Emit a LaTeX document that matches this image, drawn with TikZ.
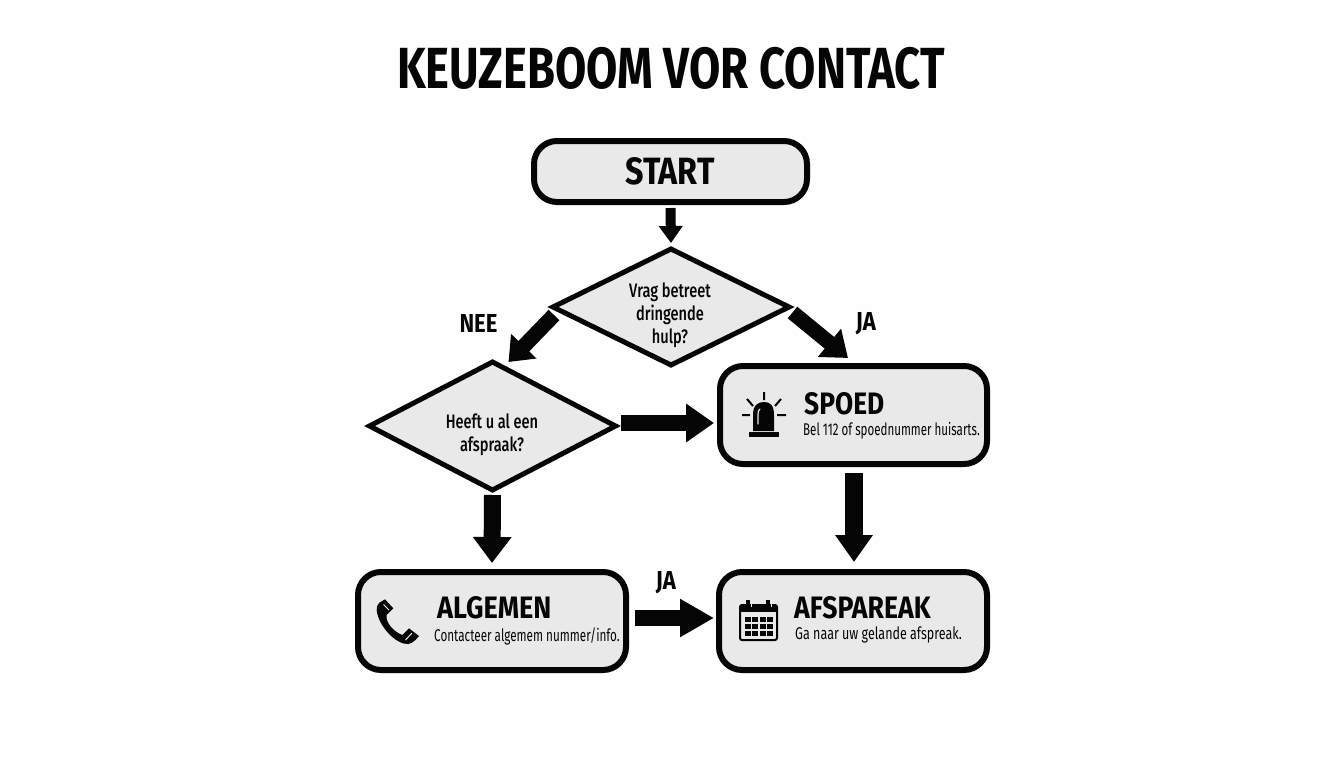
\documentclass[tikz,border=0pt]{standalone}
\usepackage{fontspec}
\setmainfont[FakeStretch=0.85]{Fira Sans}
\newfontfamily\medf[FakeStretch=0.85]{Fira Sans Medium}
\usetikzlibrary{shapes.geometric,arrows.meta}
\definecolor{boxgray}{HTML}{E9E9E9}
\definecolor{ink}{HTML}{050505}
\newcommand{\sx}[2]{\scalebox{#1}[1]{#2}}
\tikzset{
  x=1pt,y=-1pt,
  boxnode/.style={draw=ink,fill=boxgray,line width=6pt,rounded corners=23pt,outer sep=0pt,inner sep=0pt},
  decision/.style={draw=ink,fill=boxgray,diamond,line width=5pt,inner sep=0pt,outer sep=0pt,miter limit=10},
  fat/.style n args={3}{draw=ink,line width=#1pt,-{Triangle[length=#2pt,width=#3pt]}},
  title/.style={font=\bfseries\fontsize{58}{60}\selectfont,text=ink,inner sep=0pt},
  head/.style={font=\bfseries\fontsize{31}{34}\selectfont,text=ink,inner sep=0pt,anchor=west},
  subtxt/.style={font=\fontsize{17}{19}\selectfont,text=ink,inner sep=0pt,anchor=west},
  dtxt/.style={font=\medf\fontsize{19.5}{23}\selectfont,text=ink,inner sep=0pt,align=center},
  lab/.style={font=\bfseries\fontsize{26}{28}\selectfont,text=ink,inner sep=0pt},
}
\begin{document}
\begin{tikzpicture}
\useasboundingbox (0,0) rectangle (1344,768);
\fill[white!99.5!black] (0,0) rectangle (1344,768);
\node[title] (ttl) at (671,68) {\sx{0.92}{KEUZEBOOM VOR CONTACT}};
\node[boxnode,minimum width=273pt,minimum height=61pt] (start) at (670.5,171.5) {};
\node[font=\bfseries\fontsize{38}{40}\selectfont,text=ink,inner sep=0pt] (starttxt) at (670,171) {START};
\node[decision,minimum width=236pt,minimum height=116pt] (d1) at (671,307) {};
\node[dtxt] (d1txt) at (670,315) {\sx{0.88}{Vrag betreet}\\\sx{0.88}{dringende}\\\sx{0.88}{hulp?}};
\node[decision,minimum width=246pt,minimum height=128pt] (d2) at (492.5,426) {};
\node[dtxt] (d2txt) at (492,435) {\sx{0.88}{Heeft u al een}\\\sx{0.88}{afspraak?}};
\node[boxnode,minimum width=267pt,minimum height=98pt] (spoed) at (853.5,415) {};
\node[boxnode,minimum width=268pt,minimum height=98pt] (alg) at (492,621) {};
\node[boxnode,minimum width=268pt,minimum height=98pt] (afs) at (853,621) {};
\node[head] (h1) at (804,404) {SPOED};
\node[subtxt] (s1) at (803,431) {\sx{0.8}{Bel 112 of spoednummer huisarts.}};
\node[head] (h2) at (437,608) {\sx{1.03}{ALGEMEN}};
\node[subtxt] (s2) at (434,636) {\sx{0.81}{Contacteer algemem nummer/info.}};
\node[head] (h3) at (794,608) {\sx{1.01}{AFSPAREAK}};
\node[subtxt] (s3) at (795,635) {\sx{0.865}{Ga naar uw gelande afspreak.}};
\node[lab] (nee) at (478.5,323) {NEE};
\node[lab] (ja1) at (866,324) {JA};
\node[lab] (ja2) at (666,583) {JA};
% connectors
\draw[fat={10}{17}{23}] ([shift={(0,6)}]start.south) -- ([shift={(0,-6)}]d1.north);
\draw[fat={15}{22}{34}] ([shift={(1,8)}]d1.west) -- ([shift={(16,0)}]d2.north);
\draw[fat={15}{24}{35}] ([shift={(3.5,5.5)}]d1.east) -- ([shift={(-5.5,-8)}]spoed.north);
\draw[fat={16}{28}{37}] ([shift={(5,-3)}]d2.east) -- ([shift={(-6,8)}]spoed.west);
\draw[fat={17}{26}{37}] ([shift={(0,5)}]d2.south) -- ([shift={(0,-9)}]alg.north);
\draw[fat={18}{27}{36}] ([shift={(0.5,9)}]spoed.south) -- ([shift={(1,-10)}]afs.north);
\draw[fat={16}{34}{36}] ([shift={(9,-3)}]alg.east) -- ([shift={(-5,-3)}]afs.west);
% siren icon
\fill[ink] (749,432) rectangle (779,437);
\fill[ink] (753,431) -- (753,415) .. controls (753,405) and (758,402) .. (764,402) .. controls (770,402) and (774,405) .. (774,415) -- (774,431) -- cycle;
\draw[boxgray,line width=1.2pt,line cap=round] (758,424) -- (758,415) .. controls (758,411) and (759,410) .. (760,409);
\draw[ink,line width=2pt] (764,392) -- (764,400) (747,399) -- (753,406) (781,399) -- (775,406) (742,415) -- (750,415) (777,415) -- (786,415);
% phone icon
\fill[ink] (379.3,602.7) .. controls (377,605) and (376.7,607) .. (376.7,610) .. controls (378.3,626.7) and (396.7,645) .. (408.3,644) .. controls (412,643.5) and (416,640) .. (419,636) -- (409,628.3) -- (402.3,635) .. controls (393.3,631.7) and (385,621.7) .. (386.7,615) -- (393.3,608.3) -- (385,599.3) -- cycle;
\draw[boxgray,line width=1pt] (383.5,604.5) -- (389,610) (405.5,640) -- (412,633);
% calendar icon
\draw[ink,line width=2pt,rounded corners=2pt] (740,605) rectangle (777,640);
\fill[ink] (740,605) rectangle (777,612);
\draw[ink,line width=4.5pt] (748,600) -- (748,606) (768,600) -- (768,606);
\draw[boxgray,line width=1pt] (751,601) -- (751,607) (771,601) -- (771,607);
\foreach \cx in {744.5,752,759.5,767}{\foreach \cy in {616.5,623.5,630.5}{\fill[ink] (\cx,\cy) rectangle +(6,5);}}
\end{tikzpicture}
\end{document}
